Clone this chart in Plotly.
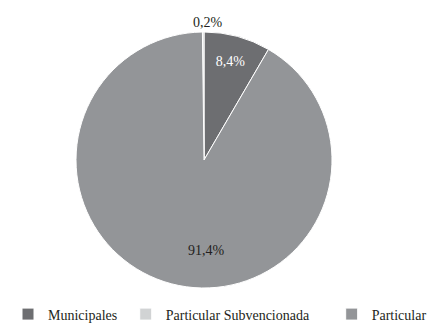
import plotly.graph_objects as go

labels = ["Municipales", "Particular Subvencionada", "Particular"]
values = [8.4, 0.2, 91.4]
colors = ["#6d6e71", "#d1d3d4", "#939598"]

FONT = "Liberation Serif, Times New Roman, serif"

def fmt(v):
    return f"{v:.1f}".replace(".", ",") + "%"

# page body adds an 8px offset; layout below is in figure pixels
W, H = 443, 330
L, R, T, B = 68, 324, 24, 280  # pie box in pixels
PW, PH = W, B - T

# legend spacing (style only): trailing no-break spaces widen the gaps between entries
legend_pad = [1, 5, 0]
legend_names = [lab + "\u00a0" * p for lab, p in zip(labels, legend_pad)]

fig = go.Figure(go.Pie(
    labels=legend_names,
    values=values,
    sort=False,
    direction="counterclockwise",
    rotation=0,
    marker=dict(colors=colors, line=dict(color="#ffffff", width=1)),
    texttemplate=["%{value:.1f}%", "", ""],
    textposition="inside",
    insidetextorientation="horizontal",
    textfont=dict(family=FONT, size=14, color="#ffffff"),
    hovertemplate="%{label}: %{value:.1f}%<extra></extra>",
    domain=dict(x=[L / W, R / W], y=[0, 1]),
))

fig.add_annotation(x=199.5 / W, y=(B - 14.5) / PH, xref="paper", yref="paper",
                   xanchor="center", yanchor="middle",
                   text=fmt(values[1]), showarrow=False,
                   font=dict(family=FONT, size=14, color="#231f20"))
fig.add_annotation(x=198 / W, y=(B - 242.5) / PH, xref="paper", yref="paper",
                   xanchor="center", yanchor="middle",
                   text=fmt(values[2]), showarrow=False,
                   font=dict(family=FONT, size=14, color="#231f20"))

fig.update_layout(
    width=W, height=H,
    margin=dict(l=0, r=0, t=T, b=H - B),
    paper_bgcolor="white",
    separators=",.",
    showlegend=True,
    legend=dict(
        orientation="h",
        x=0, y=(B - 306.5) / PH, xanchor="left", yanchor="middle",
        font=dict(family=FONT, size=14, color="#231f20"),
        itemwidth=30,
        traceorder="normal",
    ),
    font=dict(family=FONT),
)

fig.write_html("out.html")
